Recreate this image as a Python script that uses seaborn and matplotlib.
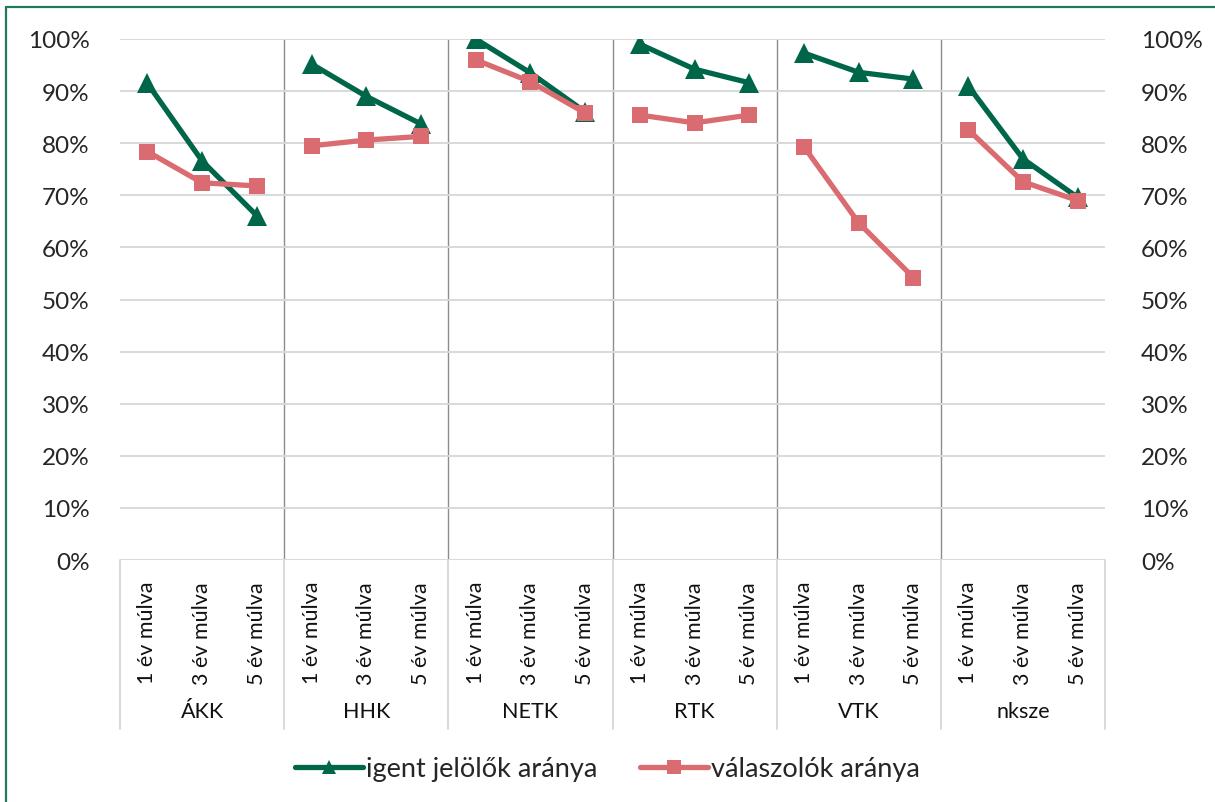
import numpy as np
import pandas as pd
import matplotlib
matplotlib.use("Agg")
import matplotlib.pyplot as plt
import seaborn as sns
from matplotlib.lines import Line2D

groups = ["ÁKK", "HHK", "NETK", "RTK", "VTK", "nksze"]
periods = ["1 év múlva", "3 év múlva", "5 év múlva"]
series_names = ["igent jelölők aránya", "válaszolók aránya"]
igent = [91.5, 76.6, 66.1, 95.2, 89.0, 83.7, 100.0, 93.5, 86.0,
         99.0, 94.2, 91.6, 97.3, 93.6, 92.3, 91.0, 77.0, 69.6]
valaszolo = [78.4, 72.4, 71.8, 79.5, 80.6, 81.3, 96.0, 91.8, 85.8,
             85.4, 83.9, 85.4, 79.3, 64.7, 54.2, 82.6, 72.6, 69.0]
yticks = [0, 10, 20, 30, 40, 50, 60, 70, 80, 90, 100]

GREEN = "#00664A"
RED = "#DA6B70"

rows = []
for s, vals in zip(series_names, [igent, valaszolo]):
    for i, v in enumerate(vals):
        rows.append({"pos": i, "group": groups[i // 3], "period": periods[i % 3],
                     "val": v / 100.0, "series": s})
df = pd.DataFrame(rows)

sns.set_theme(style="white")
plt.rcParams["font.family"] = ["Lato", "DejaVu Sans"]

W, H = 1215, 803
fig = plt.figure(figsize=(W / 100, H / 100), dpi=100)
L, R, T, B = 120, 1105, 40, 561
ax = fig.add_axes([L / W, 1 - B / H, (R - L) / W, (B - T) / H])

sns.lineplot(data=df, x="pos", y="val", hue="series", style="series",
             units="group", estimator=None, sort=False,
             hue_order=series_names, style_order=series_names,
             palette={series_names[0]: GREEN, series_names[1]: RED},
             markers={series_names[0]: "^", series_names[1]: "s"},
             dashes=False, linewidth=3.8, markersize=12, markeredgewidth=0,
             legend=False, ax=ax)
for ln in ax.lines:
    if ln.get_marker() == "^":
        ln.set_markersize(14.5)
    elif ln.get_marker() == "s":
        ln.set_markersize(11.5)

n = len(igent)
ax.set_xlim(-0.5, n - 0.5)
ax.set_ylim(0, 1)
ax.set_yticks([t / 100 for t in yticks])
ax.set_yticklabels([f"{t}%" for t in yticks], fontsize=17.5)
ax.set_xticks([])
ax.set_xlabel("")
ax.set_ylabel("")
ax.yaxis.grid(True, color="#D9D9D9", lw=1.4)
ax.xaxis.grid(False)
for sp in ax.spines.values():
    sp.set_visible(False)
ax.tick_params(axis="y", length=0, pad=22)

ax2 = ax.twinx()
ax2.set_ylim(0, 1)
ax2.set_yticks([t / 100 for t in yticks])
ax2.set_yticklabels([f"{t}%" for t in yticks], fontsize=17.5)
ax2.tick_params(axis="y", length=0, pad=26)
for sp in ax2.spines.values():
    sp.set_visible(False)
ax2.grid(False)

# group separators inside plot
for b in np.arange(2.5, n - 1, 3):
    ax.axvline(b, 0, 1.005, color="#8C8C8C", lw=1.0, zorder=0.5)

# category axis box
xt = ax.get_xaxis_transform()
box_bottom = -(730 - B) / (B - T)
for b in np.arange(-0.5, n, 3):
    ax.plot([b, b], [0, box_bottom], color="#D9D9D9", lw=1.4,
            transform=xt, clip_on=False)

lab_y = -(582 - B) / (B - T)
for i in range(n):
    ax.text(i, lab_y, periods[i % 3], rotation=90, ha="center", va="top",
            fontsize=15.5, transform=xt, color="#111111")
grp_y = -(712 - B) / (B - T)
for g, name in enumerate(groups):
    ax.text(g * 3 + 1, grp_y, name, ha="center", va="center",
            fontsize=15.5, transform=xt, color="#111111")

handles = [Line2D([], [], color=GREEN, lw=3.8, marker="^", markersize=10,
                  markeredgewidth=0),
           Line2D([], [], color=RED, lw=3.8, marker="s", markersize=10,
                  markeredgewidth=0)]
fig.legend(handles, series_names, loc="center", bbox_to_anchor=(0.5, 1 - 770 / H),
           ncol=2, frameon=False, fontsize=19.5, handlelength=2.5,
           handletextpad=0.1, columnspacing=1.6)

# outer border (top and left visible)
BC = "#1E7A5A"
fig.add_artist(Line2D([6 / W, 6 / W], [0, 1 - 8 / H], transform=fig.transFigure,
                      color=BC, lw=1.6))
fig.add_artist(Line2D([6 / W, 1], [1 - 8 / H, 1 - 8 / H], transform=fig.transFigure,
                      color=BC, lw=1.6))

fig.savefig("out.png", dpi=100)
